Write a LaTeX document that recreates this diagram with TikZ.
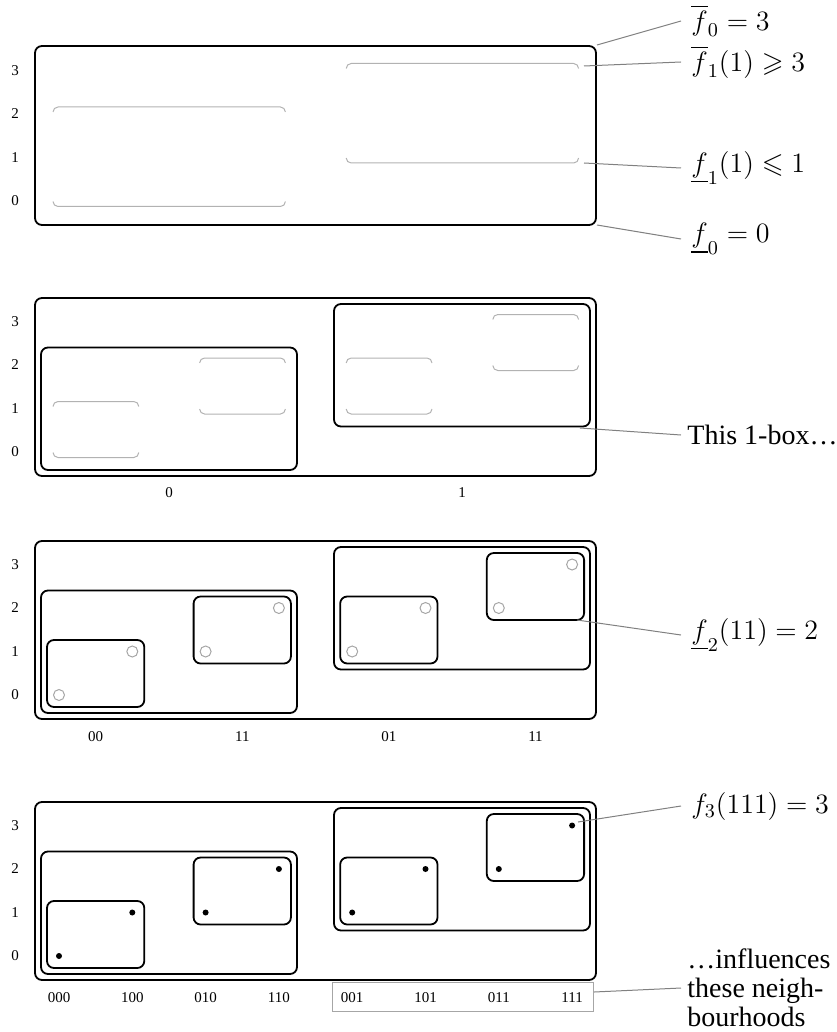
\RequirePackage{fix-cm}
\documentclass[tikz,border=0pt]{standalone}
\usepackage{amssymb}
\usepackage[no-math]{fontspec}
\setmainfont{Liberation Serif}
\tikzset{
  cell/.style={draw=black, line width=0.9pt, rounded corners=3.5pt},
  bound/.style={draw=black!30, line width=0.5pt, rounded corners=2.5pt},
  lead/.style={draw=black!50, line width=0.5pt},
  tick/.style={font=\fontsize{7.5}{9}\selectfont, inner sep=0pt},
  note/.style={anchor=west, inner xsep=5pt, inner ysep=1pt, font=\fontsize{14}{14.5}\selectfont},
}
% open bounds: only the lower and upper edges, in light grey
\newcommand{\bounds}[4]{%
  \draw[bound] ({#1},{#3+5}) -- ({#1},{#3}) -- ({#2},{#3}) -- ({#2},{#3+5});
  \draw[bound] ({#1},{#4-5}) -- ({#1},{#4}) -- ({#2},{#4}) -- ({#2},{#4-5});}

\begin{document}
\begin{tikzpicture}[x=0.5pt,y=-0.5pt]
\useasboundingbox (0,0) rectangle (836,1032);
% value axis of every panel
\foreach \b in {201,452,695,956}
  \foreach \v in {0,...,3}
    \node[tick] (val-\b-\v) at (15,{\b-43.5*\v}) {\v};

% panel 1
\draw[cell] (35,46) rectangle (596,225);
\bounds{53}{285.4}{107}{206.5}
\bounds{346.2}{578.6}{63.5}{163}
\coordinate (c0top) at (597,45);
\coordinate (c1top) at (584,66);
\coordinate (c1bot) at (584,163);
\coordinate (c0bot) at (597,225);
\node[note] (f0top) at (681,21) {$\overline{f}_0 = 3$};
\node[note] (f1top) at (681,62) {$\overline{f}_1(1) \geqslant 3$};
\node[note] (f1bot) at (681,168) {$\underline{f}_1(1) \leqslant 1$};
\node[note] (f0bot) at (681,239) {$\underline{f}_0 = 0$};
\draw[lead] (c0top) -- (f0top.west);
\draw[lead] (c1top) -- (f1top.west);
\draw[lead] (c1bot) -- (f1bot.west);
\draw[lead] (c0bot) -- (f0bot.west);

% panel 2
\draw[cell] (35,298) rectangle (596,476);
\draw[cell] (41,347.5) rectangle (297,470);
\draw[cell] (334,304) rectangle (590,426.5);
\bounds{53}{138.8}{401.5}{457.5}
\bounds{199.6}{285.4}{358}{414}
\bounds{346.2}{432}{358}{414}
\bounds{492.8}{578.6}{314.5}{370.5}
\node[tick] (pos-0) at (169,493) {0};
\node[tick] (pos-1) at (462,493) {1};
\coordinate (cbox) at (580,428);
\node[note, inner xsep=3pt] (onebox) at (681,435) {This 1-box\ldots};
\draw[lead] (cbox) -- (onebox.west);

% panel 3
\draw[cell] (35,541) rectangle (596,719);
\draw[cell] (41,590.5) rectangle (297,713);
\draw[cell] (334,547) rectangle (590,669.5);
\draw[cell] (47,640) rectangle (144.3,707);
\draw[cell] (193.6,596.5) rectangle (290.9,663.5);
\draw[cell] (340.2,596.5) rectangle (437.5,663.5);
\draw[cell] (486.8,553) rectangle (584.1,620);
\foreach \x/\y in {59/695,132.3/651.5,205.6/651.5,278.9/608,352.2/651.5,425.5/608,498.8/608,572.1/564.5}
  \draw[black!35, line width=0.5pt] (\x,\y) circle[radius=2.75pt];
\node[tick] (pos-00) at (95.7,737) {00};
\node[tick] (pos-10) at (242.3,737) {11};
\node[tick] (pos-01) at (388.9,737) {01};
\node[tick] (pos-11) at (535.5,737) {11};
\coordinate (cpair) at (577,620);
\node[note] (f2) at (681,635) {$\underline{f}_2(11) = 2$};
\draw[lead] (cpair) -- (f2.west);

% panel 4
\draw[cell] (35,802) rectangle (596,980);
\draw[cell] (41,851.5) rectangle (297,974);
\draw[cell] (334,808) rectangle (590,930.5);
\draw[cell] (47,901) rectangle (144.3,968);
\draw[cell] (193.6,857.5) rectangle (290.9,924.5);
\draw[cell] (340.2,857.5) rectangle (437.5,924.5);
\draw[cell] (486.8,814) rectangle (584.1,881);
\foreach \x/\y/\s in {59/956/000,132.3/912.5/100,205.6/912.5/010,278.9/869/110,352.2/912.5/001,425.5/869/101,498.8/869/011,572.1/825.5/111} {
  \fill[black] (\x,\y) circle[radius=1.5pt];
  \node[tick] (pos-\s) at (\x,998) {\s};
}
\draw[black!35, line width=0.5pt] (332,982) rectangle (593,1011);
\coordinate (cleaf) at (578,822);
\coordinate (cnbhd) at (594,992);
\node[note] (f3) at (681,806) {$f_3(111) = 3$};
\node[note, inner xsep=3pt, align=left] (nbhd) at (681,988) {\ldots influences\\these neigh-\\bourhoods};
\draw[lead] (cleaf) -- (f3.west);
\draw[lead] (cnbhd) -- (nbhd.west);
\end{tikzpicture}
\end{document}
